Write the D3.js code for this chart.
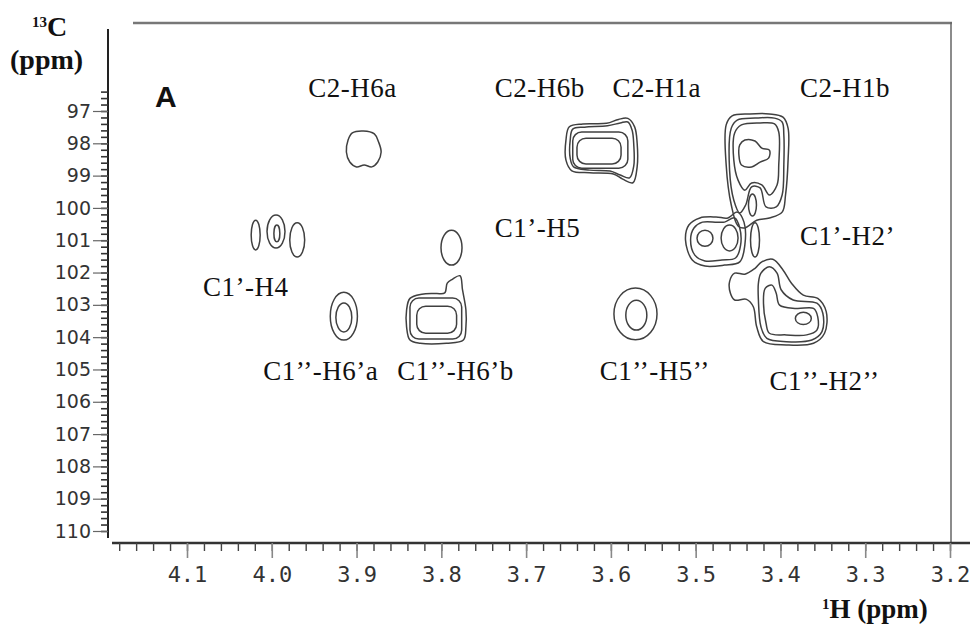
<!DOCTYPE html>
<html>
<head>
<meta charset="utf-8">
<script src="https://cdn.jsdelivr.net/npm/d3@7"></script>
<style>
  body { margin: 0; background: #fff; }
  svg { display: block; }
</style>
</head>
<body>
<svg id="chart" width="970" height="626"></svg>
<script>
// ---- axis ticks ----
const yTicks = [97, 98, 99, 100, 101, 102, 103, 104, 105, 106, 107, 108, 109, 110];
const yMinor = d3.range(482, 551).map(i => i / 5);      // 96.4 .. 110 step 0.2
const xTicks = [4.1, 4.0, 3.9, 3.8, 3.7, 3.6, 3.5, 3.4, 3.3, 3.2];
const xTickLabels = ["4.1", "4.0", "3.9", "3.8", "3.7", "3.6", "3.5", "3.4", "3.3", "3.2"];
const xMinor = d3.range(160, 210).map(i => i / 50);    // 3.20 .. 4.18 step 0.02

// ---- cross peak labels: [text, 1H ppm (left edge), 13C ppm (baseline)] ----
const peakLabels = [
  ["C2-H6a", 3.957, 96.57],
  ["C2-H6b", 3.737, 96.57],
  ["C2-H1a", 3.598, 96.57],
  ["C2-H1b", 3.377, 96.57],
  ["C1\u2019-H5", 3.737, 100.90],
  ["C1\u2019-H2\u2019", 3.377, 101.15],
  ["C1\u2019-H4", 4.081, 102.73],
  ["C1\u2019\u2019-H6\u2019a", 4.010, 105.33],
  ["C1\u2019\u2019-H6\u2019b", 3.852, 105.33],
  ["C1\u2019\u2019-H5\u2019\u2019", 3.613, 105.33],
  ["C1\u2019\u2019-H2\u2019\u2019", 3.413, 105.64]
];

// ---- elliptic contour rings: [1H centre, 13C centre, half width 1H, half width 13C] ----
const ellipseRings = [
  [4.019, 100.84, 0.0053, 0.46], // C1'-H4
  [3.995, 100.73, 0.0106, 0.51],
  [3.994, 100.79, 0.0035, 0.26],
  [3.970, 100.99, 0.0088, 0.53],
  [3.915, 103.35, 0.016, 0.74],  // C1''-H6'a
  [3.915, 103.39, 0.0094, 0.45],
  [3.788, 101.23, 0.0124, 0.54], // C1'-H5
  [3.571, 103.28, 0.0254, 0.80], // C1''-H5''
  [3.570, 103.32, 0.0124, 0.46],
  [3.433, 99.91, 0.0047, 0.34],  // C2-H1b inner lobe
  [3.489, 100.94, 0.0094, 0.25], // C1'-H2'
  [3.460, 100.93, 0.010, 0.40],
  [3.430, 100.99, 0.0053, 0.53],
  [3.373, 103.42, 0.0094, 0.19]  // C1''-H2''
];

// ---- rectangular contour rings: [1H left, 1H right, 13C top, 13C bottom] ----
const boxRings = [
  [3.837, 3.776, 102.79, 104.06], // C1''-H6'b
  [3.829, 3.782, 103.04, 103.88],
  [3.645, 3.580, 97.65, 98.77],   // C2-H6b / C2-H1a
  [3.640, 3.588, 97.84, 98.64]
];

// ---- free-form contour rings: [1H, 13C] points ----
const freeRings = [
  // C2-H6a
  [[3.910,97.90],[3.905,97.68],[3.892,97.62],[3.879,97.71],[3.874,97.96],[3.871,98.27],
   [3.875,98.58],[3.882,98.73],[3.891,98.67],[3.900,98.73],[3.908,98.58],[3.912,98.27]],
  // C1''-H6'b outer
  [[3.841,103.16],[3.837,102.80],[3.823,102.67],[3.806,102.65],[3.796,102.63],[3.793,102.33],
   [3.787,102.21],[3.778,102.10],[3.775,102.54],[3.771,103.16],[3.771,103.68],[3.774,104.09],
   [3.794,104.19],[3.825,104.19],[3.837,104.09],[3.841,103.68]],
  // C2-H6b / C2-H1a
  [[3.653,97.90],[3.649,97.49],[3.633,97.40],[3.605,97.38],[3.591,97.26],[3.580,97.23],
   [3.572,97.49],[3.569,98.00],[3.569,98.72],[3.574,99.22],[3.586,99.11],[3.597,98.95],
   [3.625,98.91],[3.646,98.85],[3.653,98.52]],
  [[3.648,97.90],[3.645,97.56],[3.631,97.50],[3.604,97.46],[3.589,97.37],[3.580,97.34],
   [3.575,97.59],[3.573,98.05],[3.573,98.70],[3.578,99.07],[3.589,98.98],[3.601,98.86],
   [3.625,98.83],[3.644,98.73],[3.648,98.46]],
  // C2-H1b
  [[3.464,97.43],[3.457,97.15],[3.436,97.09],[3.413,97.09],[3.397,97.19],[3.391,97.53],
   [3.391,98.52],[3.394,99.60],[3.398,100.13],[3.413,100.31],[3.428,100.38],[3.442,100.62],
   [3.450,100.56],[3.458,99.91],[3.464,98.67]],
  [[3.458,97.53],[3.451,97.28],[3.430,97.22],[3.407,97.22],[3.398,97.34],[3.396,97.74],
   [3.396,98.67],[3.398,99.60],[3.405,99.97],[3.417,99.97],[3.424,99.38],[3.434,99.35],
   [3.441,99.91],[3.448,100.16],[3.455,99.76],[3.460,98.83]],
  [[3.454,97.68],[3.446,97.43],[3.424,97.37],[3.407,97.40],[3.402,97.65],[3.402,98.67],
   [3.404,99.29],[3.413,99.60],[3.422,99.29],[3.434,99.23],[3.442,99.45],[3.450,99.14],
   [3.455,98.52]],
  [[3.448,98.05],[3.442,97.90],[3.430,97.93],[3.422,98.15],[3.413,98.21],[3.414,98.46],
   [3.424,98.58],[3.434,98.73],[3.446,98.67],[3.449,98.36]],
  // C1'-H2'
  [[3.512,100.99],[3.508,100.53],[3.495,100.31],[3.476,100.28],[3.462,100.31],[3.451,100.13],
   [3.443,100.44],[3.442,101.15],[3.448,101.67],[3.466,101.77],[3.489,101.80],[3.504,101.61]],
  [[3.506,100.99],[3.502,100.62],[3.492,100.44],[3.475,100.44],[3.466,100.44],[3.454,100.31],
   [3.448,100.62],[3.447,101.15],[3.453,101.55],[3.469,101.61],[3.489,101.64],[3.501,101.46]],
  // C1''-H2''
  [[3.460,102.28],[3.454,102.02],[3.442,102.05],[3.430,101.87],[3.422,101.67],[3.409,101.59],
   [3.397,101.92],[3.387,102.33],[3.373,102.70],[3.356,102.80],[3.346,103.21],[3.348,103.88],
   [3.361,104.19],[3.393,104.24],[3.420,104.14],[3.428,103.68],[3.432,103.06],[3.440,102.83],
   [3.454,102.85],[3.459,102.64]],
  [[3.423,102.02],[3.413,101.82],[3.404,102.02],[3.399,102.54],[3.385,102.85],[3.357,102.95],
   [3.350,103.26],[3.351,103.83],[3.363,104.09],[3.393,104.14],[3.416,104.04],[3.423,103.68],
   [3.426,102.85],[3.426,102.33]],
  [[3.418,102.49],[3.410,102.39],[3.405,102.64],[3.401,103.01],[3.381,103.11],[3.361,103.11],
   [3.356,103.37],[3.357,103.78],[3.369,103.93],[3.393,103.93],[3.413,103.88],[3.417,103.57],
   [3.420,102.95]]
];

const svg = d3.select("#chart");

const x = d3.scaleLinear().domain([4.1, 3.2]).range([187, 950]);
const y = d3.scaleLinear().domain([97, 110]).range([111, 531]);

const AX_X = 108, AX_Y = 543;
const ink = "#404040";

// frame
svg.append("line").attr("x1", 133).attr("x2", 952).attr("y1", 23).attr("y2", 23)
  .attr("stroke", "#777").attr("stroke-width", 2.5);
svg.append("line").attr("x1", 951).attr("x2", 951).attr("y1", 22).attr("y2", AX_Y)
  .attr("stroke", "#666").attr("stroke-width", 1.5);
svg.append("line").attr("x1", AX_X).attr("x2", AX_X).attr("y1", 29).attr("y2", 538)
  .attr("stroke", "#222").attr("stroke-width", 2);
svg.append("line").attr("x1", 112).attr("x2", 970).attr("y1", AX_Y).attr("y2", AX_Y)
  .attr("stroke", "#333").attr("stroke-width", 2.5);

// y axis
const yMinorG = svg.append("g").attr("transform", `translate(${AX_X},0)`)
  .call(d3.axisLeft(y).tickValues(yMinor).tickSize(7).tickFormat(""));
yMinorG.select(".domain").remove();
yMinorG.selectAll(".tick line").attr("stroke", "#333").attr("stroke-width", 1.6);

const yMajorG = svg.append("g").attr("transform", `translate(${AX_X},0)`)
  .call(d3.axisLeft(y).tickValues(yTicks).tickSize(15).tickPadding(2));
yMajorG.select(".domain").remove();
yMajorG.selectAll(".tick line").attr("stroke", "#666").attr("stroke-width", 1.2);
yMajorG.selectAll(".tick text").attr("fill", "#333")
  .attr("font-family", "DejaVu Sans").attr("font-size", 19);

// x axis
const xMinorG = svg.append("g").attr("transform", `translate(0,${AX_Y})`)
  .call(d3.axisBottom(x).tickValues(xMinor).tickSize(8).tickFormat(""));
xMinorG.select(".domain").remove();
xMinorG.selectAll(".tick line").attr("stroke", "#444").attr("stroke-width", 1.4);

const xMajorG = svg.append("g").attr("transform", `translate(0,${AX_Y})`)
  .call(d3.axisBottom(x).tickValues(xTicks).tickSize(15).tickPadding(8)
    .tickFormat((d, i) => xTickLabels[i]));
xMajorG.select(".domain").remove();
xMajorG.selectAll(".tick line").attr("stroke", "#888").attr("stroke-width", 1.6);
xMajorG.selectAll(".tick text").attr("fill", "#333")
  .attr("font-family", "DejaVu Sans Mono").attr("font-size", 22);

// contours
const plot = svg.append("g").attr("fill", "none").attr("stroke", ink).attr("stroke-width", 1.5);

plot.selectAll("ellipse").data(ellipseRings).join("ellipse")
  .attr("cx", d => x(d[0])).attr("cy", d => y(d[1]))
  .attr("rx", d => Math.abs(x(d[0] + d[2]) - x(d[0])))
  .attr("ry", d => Math.abs(y(d[1] + d[3]) - y(d[1])));

plot.selectAll("rect").data(boxRings).join("rect")
  .attr("x", d => x(d[0])).attr("y", d => y(d[2]))
  .attr("width", d => x(d[1]) - x(d[0])).attr("height", d => y(d[3]) - y(d[2]))
  .attr("rx", 9).attr("ry", 9);

const ringLine = d3.line().x(d => x(d[0])).y(d => y(d[1]))
  .curve(d3.curveCatmullRomClosed.alpha(0.5));
plot.selectAll("path.ring").data(freeRings).join("path")
  .attr("class", "ring").attr("d", ringLine);

// peak labels
svg.append("g").selectAll("text").data(peakLabels).join("text")
  .attr("x", d => x(d[1])).attr("y", d => y(d[2]))
  .attr("font-family", "Liberation Serif").attr("font-size", 27)
  .attr("letter-spacing", 0.5).attr("fill", "#111")
  .text(d => d[0]);

// panel letter
svg.append("text").attr("x", 155).attr("y", 107)
  .attr("font-family", "Liberation Sans").attr("font-weight", "bold")
  .attr("font-size", 30).attr("fill", "#111").text("A");

// axis titles
const cTitle = svg.append("text").attr("x", 32).attr("y", 36)
  .attr("font-family", "Liberation Serif").attr("font-weight", "bold").attr("fill", "#111");
cTitle.append("tspan").attr("font-size", 15).attr("dy", -9).text("13");
cTitle.append("tspan").attr("font-size", 28).attr("dy", 9).text("C");
svg.append("text").attr("x", 10).attr("y", 69)
  .attr("font-family", "Liberation Serif").attr("font-weight", "bold")
  .attr("font-size", 28).attr("fill", "#111").text("(ppm)");

const hTitle = svg.append("text").attr("x", 822).attr("y", 618)
  .attr("font-family", "Liberation Serif").attr("font-weight", "bold").attr("fill", "#111");
hTitle.append("tspan").attr("font-size", 15).attr("dy", -9).text("1");
hTitle.append("tspan").attr("font-size", 27).attr("dy", 9).text("H (ppm)");
</script>
</body>
</html>
